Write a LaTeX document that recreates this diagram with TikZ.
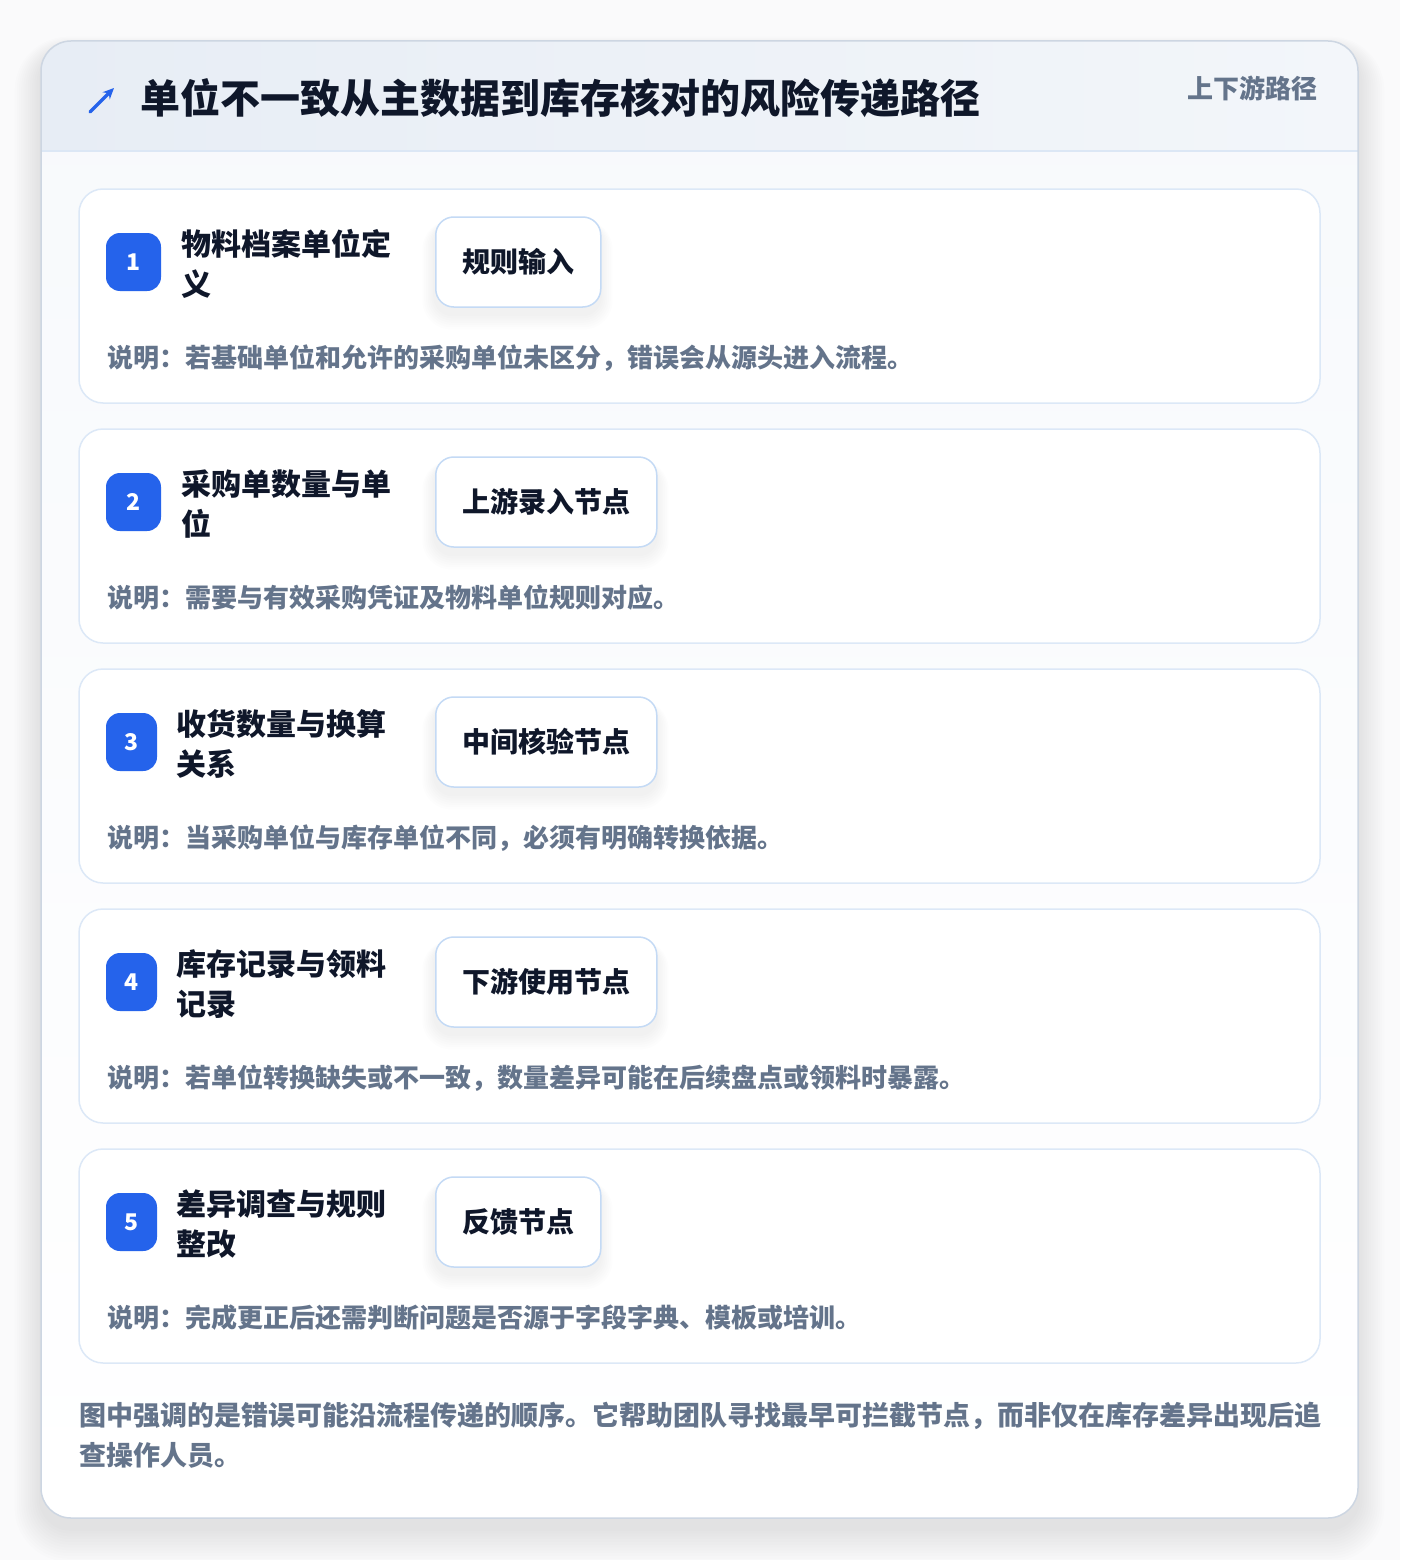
\documentclass[tikz,border=0pt]{standalone}
\usepackage{fontspec}
\setmainfont{Noto Sans CJK SC}
\usetikzlibrary{arrows.meta}
\definecolor{ink}{HTML}{0F172A}
\definecolor{muted}{HTML}{64748B}
\definecolor{accent}{HTML}{2563EB}
\definecolor{pagebg}{HTML}{FAFAFB}
\definecolor{cardbg}{HTML}{F7F9FC}
\definecolor{cardborder}{HTML}{CDD6E2}
\definecolor{hdrL}{HTML}{E7EDF5}
\definecolor{hdrR}{HTML}{F3F6FA}
\definecolor{hdrline}{HTML}{DCE7F5}
\definecolor{stepborder}{HTML}{DCE8F7}
\definecolor{tagborder}{HTML}{C4DAF5}
\tikzset{
  stepcard/.style={fill=white, draw=stepborder, line width=1.5pt, rounded corners=24pt},
  tagbox/.style={fill=white, draw=tagborder, line width=1.5pt, rounded corners=18pt,
    minimum height=90pt, inner xsep=26.5pt, inner ysep=0pt, text=ink,
    font=\fontsize{28}{34}\selectfont\bfseries, text height=24.6pt, text depth=3.4pt},
  badge/.style={fill=accent, rounded corners=14pt, minimum height=58pt, inner sep=0pt,
    text=white, font=\fontsize{23}{26}\selectfont\bfseries, text height=16.5pt, text depth=0pt},
  steptitle/.style={anchor=base west, inner sep=0pt, text=ink, font=\fontsize{30}{40}\selectfont\bfseries},
  desc/.style={anchor=base west, inner sep=0pt, text=muted, font=\fontsize{26}{32}\selectfont\bfseries},
  foot/.style={anchor=base west, inner sep=0pt, text=muted, font=\fontsize{27}{40}\selectfont\bfseries},
}
\begin{document}
\begin{tikzpicture}[x=1pt,y=-1pt]
\useasboundingbox (0,0) rectangle (1400,1560);
\fill[pagebg] (0,0) rectangle (1400,1560);
% outer shadow
\foreach \k in {1,...,12}
  \fill[black,opacity=0.008,rounded corners=30+\k*2]
    (41-\k*2.2,41-\k*1.2+10) rectangle (1358+\k*2.2,1518+\k*2.8+10);
% card
\shade[top color=cardbg, bottom color=white, rounded corners=30pt] (41,41) rectangle (1358,1518);
\begin{scope}
  \clip[rounded corners=30pt] (41,41) rectangle (1358,1518);
  \shade[left color=hdrL, right color=hdrR] (41,41) rectangle (1358,151);
\end{scope}
\draw[hdrline, line width=1.5pt] (41,151) -- (1358,151);
\draw[cardborder, line width=1.5pt, rounded corners=30pt] (41,41) rectangle (1358,1518);
% header
\coordinate (icA) at (90,112);
\coordinate (icB) at (114,88);
\draw[accent, line width=3.2pt, line cap=round, -{Stealth[length=11pt,width=10pt]}] (icA) -- (icB);
\node[anchor=base west, inner sep=0pt, text=ink, font=\fontsize{40}{48}\selectfont\bfseries] (title) at (140,113.2) {单位不一致从主数据到库存核对的风险传递路径};
\node[anchor=base east, inner sep=0pt, text=muted, font=\fontsize{26}{32}\selectfont\bfseries] (tagline) at (1318,98.9) {上下游路径};
% steps
\foreach \i/\ta/\tb/\tg/\nc/\ds/\bx/\bw/\tx in {
  1/物料档案单位定/义/规则输入/4/说明：若基础单位和允许的采购单位未区分，错误会从源头进入流程。/133.5/55/181,
  2/采购单数量与单/位/上游录入节点/6/说明：需要与有效采购凭证及物料单位规则对应。/133.5/55/181,
  3/收货数量与换算/关系/中间核验节点/6/说明：当采购单位与库存单位不同，必须有明确转换依据。/131.5/51/176,
  4/库存记录与领料/记录/下游使用节点/6/说明：若单位转换缺失或不一致，数量差异可能在后续盘点或领料时暴露。/131.5/51/176,
  5/差异调查与规则/整改/反馈节点/4/说明：完成更正后还需判断问题是否源于字段字典、模板或培训。/131.5/51/176}{
  \pgfmathsetmacro\t{189+240*(\i-1)}
  \pgfmathsetmacro\tw{53+28*\nc}
  \path[stepcard] (79,\t) rectangle (1320,\t+214);
  \node[minimum width=1241pt, minimum height=214pt, inner sep=0pt, anchor=north west] (card\i) at (79,\t) {};
  \node[badge, minimum width=\bw pt] (num\i) at (\bx,\t+73) {\i};
  \node[steptitle] (tA\i) at (\tx,\t+66.4) {\ta};
  \node[steptitle] (tB\i) at (\tx,\t+106.4) {\tb};
  \foreach \k in {1,...,7}
    \fill[black,opacity=0.007,rounded corners=18+\k*1.5]
      (435-\k*1.8,\t+28-\k*0.5+7) rectangle (435+\tw+\k*1.8,\t+118+\k*2.2+7);
  \node[tagbox, anchor=west] (tag\i) at (435,\t+73) {\tg};
  \node[desc] (d\i) at (107,\t+178) {\ds};
}
% footer
\node[foot] (f1) at (79,1425.3) {图中强调的是错误可能沿流程传递的顺序。它帮助团队寻找最早可拦截节点，而非仅在库存差异出现后追};
\node[foot] (f2) at (79,1465.3) {查操作人员。};
\end{tikzpicture}
\end{document}
